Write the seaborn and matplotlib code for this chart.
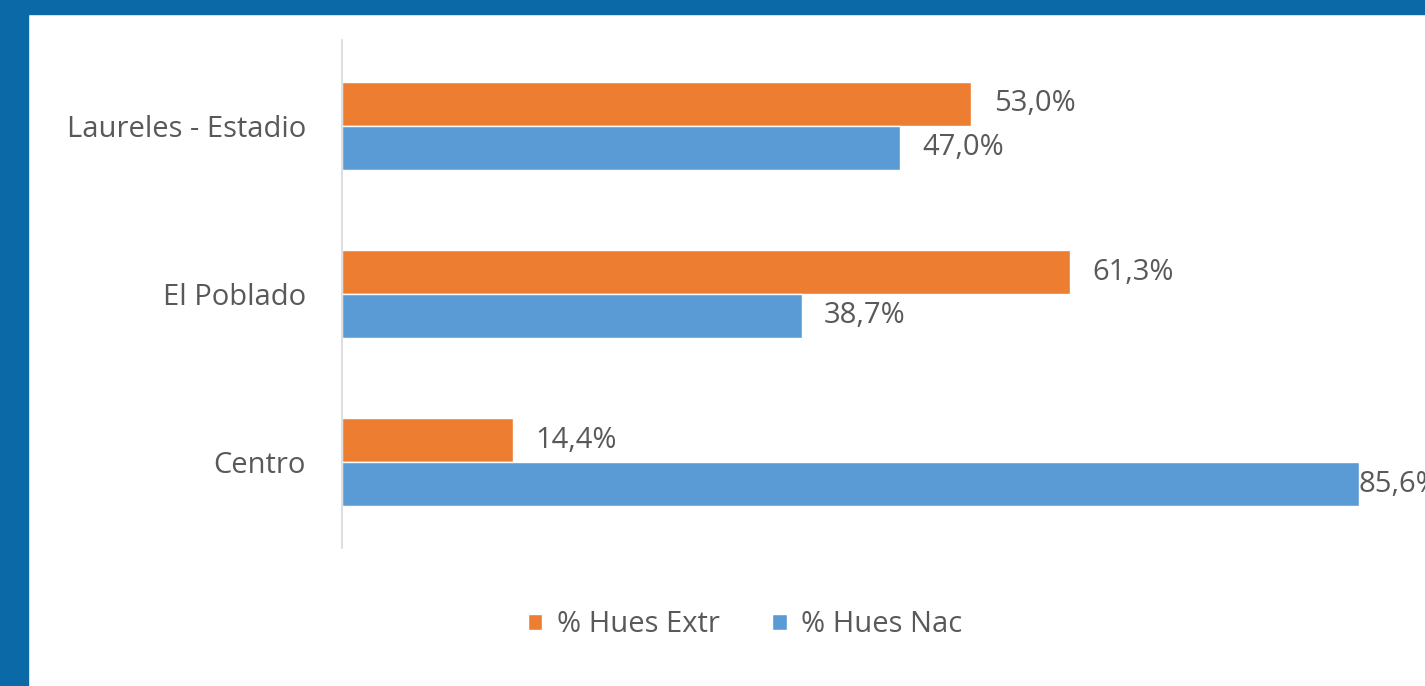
import pandas as pd
import seaborn as sns
import matplotlib.pyplot as plt
from matplotlib.patches import Rectangle

comunas = ['Laureles - Estadio', 'El Poblado', 'Centro']
hues_extr = [53.0, 61.3, 14.4]
hues_nac = [47.0, 38.7, 85.6]
series = ['% Hues Extr', '% Hues Nac']

df = pd.DataFrame({
    'Comuna': comunas * 2,
    'Serie': [series[0]] * 3 + [series[1]] * 3,
    'Valor': hues_extr + hues_nac,
})

sns.set_style('white')
plt.rcParams['font.family'] = ['Open Sans', 'DejaVu Sans']

fig = plt.figure(figsize=(14.25, 6.86), dpi=100)
# blue frame on left and top
fig.patches.append(Rectangle((0, 0), 28 / 1425, 1, transform=fig.transFigure,
                             color='#0b69a8', zorder=0))
fig.patches.append(Rectangle((0, 1 - 14 / 686), 1, 14 / 686, transform=fig.transFigure,
                             color='#0b69a8', zorder=0))

ax = fig.add_axes([342 / 1425, 1 - 548 / 686, 1 - 342 / 1425, 508 / 686])
ax.patch.set_alpha(0)
sns.barplot(data=df, y='Comuna', x='Valor', hue='Serie', orient='h',
            palette=['#ED7D31', '#5B9BD5'], width=0.52, saturation=1, ax=ax)

ax.set_xlim(0, 91.2)
ax.set_ylim(2.51, -0.51)
ax.set_xlabel('')
ax.set_ylabel('')
ax.set_xticks([])
ax.tick_params(axis='y', length=0, pad=26, labelsize=21, labelcolor='#595959')
for s in ['top', 'right', 'bottom']:
    ax.spines[s].set_visible(False)
ax.spines['left'].set_color('#d9d9d9')
ax.spines['left'].set_linewidth(1.2)

for cont in ax.containers:
    for bar in cont:
        w = bar.get_width()
        pad = 0 if w > 80 else 16
        ax.annotate(f'{w:.1f}%'.replace('.', ','),
                    (w, bar.get_y() + bar.get_height() / 2),
                    xytext=(pad, 0), textcoords='offset points',
                    va='center', ha='left', fontsize=21, color='#595959',
                    annotation_clip=False)

ax.legend(loc='center', bbox_to_anchor=(745 / 1425, 1 - 625 / 686),
          bbox_transform=fig.transFigure, ncol=2, frameon=False,
          fontsize=21, labelcolor='#595959', handlelength=0.5, handleheight=0.5,
          handletextpad=0.5, columnspacing=1.8)

fig.savefig('out.png', dpi=100, facecolor='white')
